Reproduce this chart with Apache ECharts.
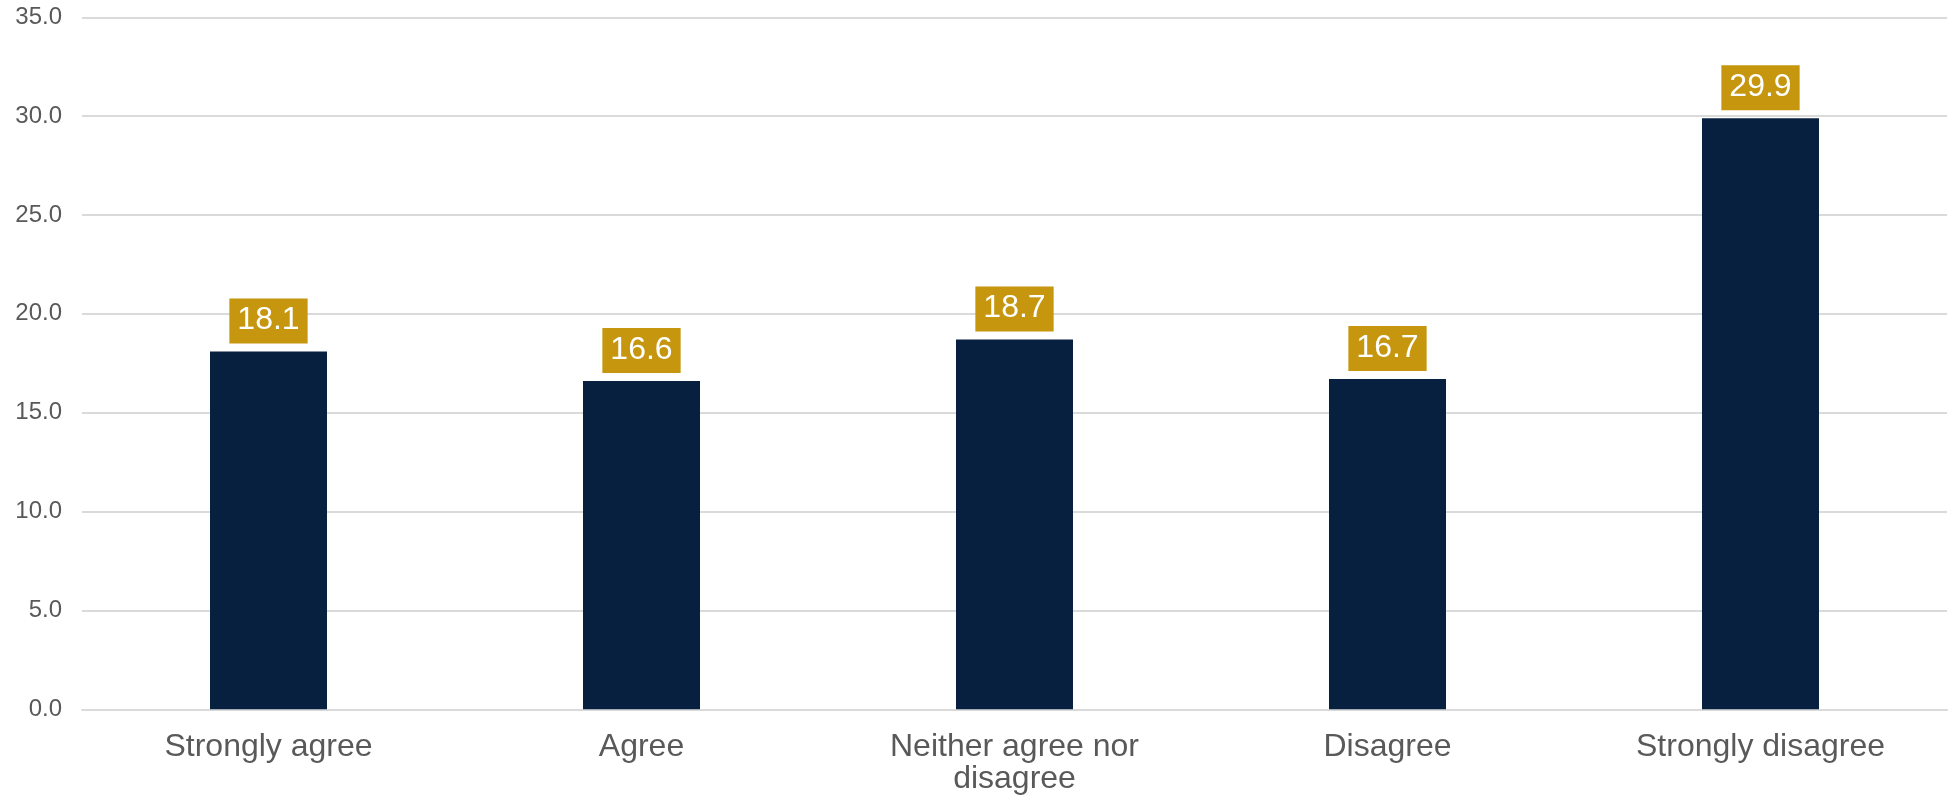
<!DOCTYPE html>
<html>
<head>
<meta charset="utf-8">
<style>
  html, body { margin: 0; padding: 0; background: #ffffff; }
  #chart { width: 1950px; height: 803px; }
</style>
<script src="https://cdn.jsdelivr.net/npm/echarts@6/dist/echarts.min.js"></script>
</head>
<body>
<div id="chart"></div>
<script>
const categories = ['Strongly agree', 'Agree', 'Neither agree nor\ndisagree', 'Disagree', 'Strongly disagree'];
const values = [18.1, 16.6, 18.7, 16.7, 29.9];
const yMin = 0, yMax = 35, yStep = 5;

const chart = echarts.init(document.getElementById('chart'), null, { renderer: 'canvas' });
const font = '"Liberation Sans", Arial, sans-serif';
chart.setOption({
  animation: false,
  backgroundColor: '#ffffff',
  grid: { left: 82, right: 3, top: 17.3, bottom: 93.7, containLabel: false },
  xAxis: {
    type: 'category',
    data: categories,
    axisLine: { show: true, lineStyle: { color: '#dadada', width: 2 } },
    axisTick: { show: false },
    axisLabel: { color: '#595959', fontFamily: font, fontSize: 32, lineHeight: 32, margin: 22, interval: 0 }
  },
  yAxis: {
    type: 'value',
    min: yMin, max: yMax, interval: yStep,
    axisLine: { show: false },
    axisTick: { show: false },
    splitLine: { lineStyle: { color: '#dadada', width: 2 } },
    axisLabel: { color: '#595959', fontFamily: font, fontSize: 24, margin: 20,
      formatter: v => v.toFixed(1) }
  },
  series: [{
    type: 'bar',
    data: values,
    barWidth: 117,
    itemStyle: { color: '#08203F' },
    label: {
      show: true,
      position: 'top',
      distance: 8,
      color: '#ffffff',
      fontFamily: font,
      fontSize: 32,
      lineHeight: 32,
      backgroundColor: '#C5960E',
      padding: [6, 8, 7, 8],
      formatter: p => p.value.toFixed(1)
    }
  }]
});
</script>
</body>
</html>
